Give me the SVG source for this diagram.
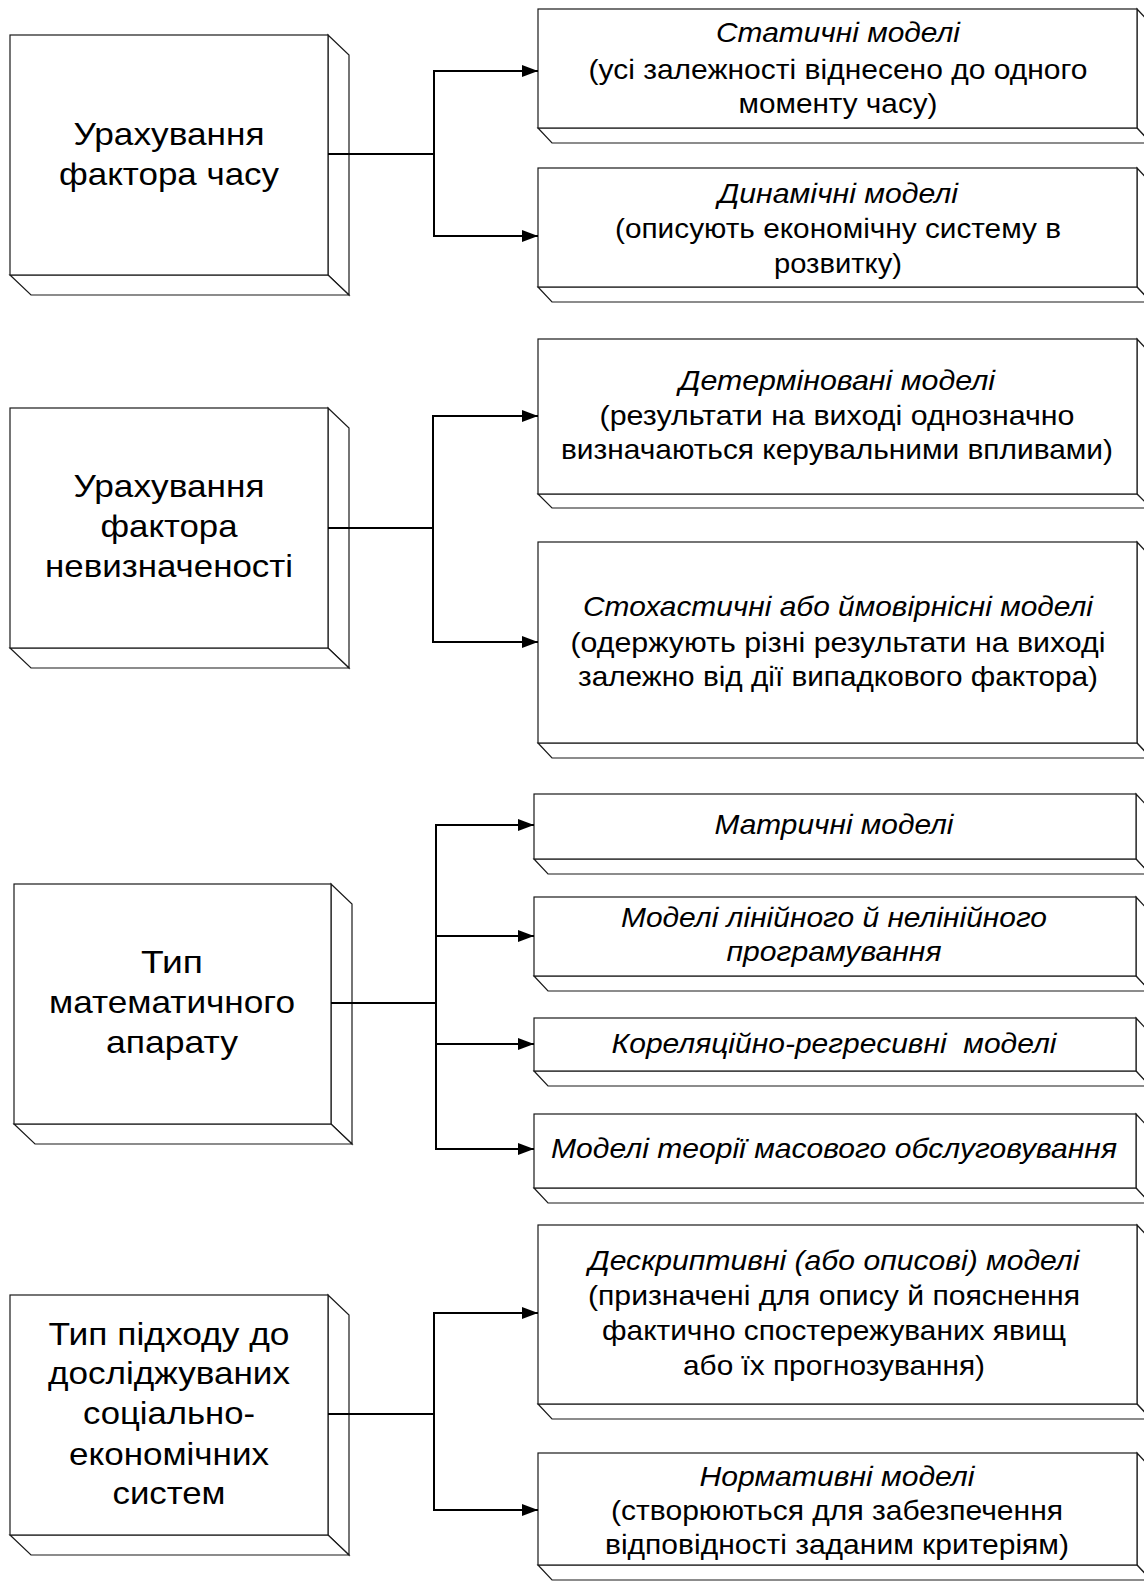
<svg xmlns="http://www.w3.org/2000/svg" width="1144" height="1582" viewBox="0 0 1144 1582">
  <style>
    .face { fill: #ffffff; stroke: #1a1a1a; stroke-width: 1.2; stroke-linejoin: miter; }
    .cat { font-family: "Liberation Sans", Arial, sans-serif; font-size: 32px; fill: #000; text-anchor: middle; }
    .t { font-family: "Liberation Sans", Arial, sans-serif; font-size: 27.5px; fill: #000; text-anchor: middle; }
    .ti { font-style: italic; }
    .wire { fill: none; stroke: #000; stroke-width: 2; }
  </style>
  <defs>
    <marker id="arrow" markerUnits="userSpaceOnUse" markerWidth="17" markerHeight="13" refX="16" refY="6.5" orient="auto">
      <path d="M0,0.5 L16,6.5 L0,12.5 Z" fill="#000"/>
    </marker>
  </defs>
  <rect width="1144" height="1582" fill="#ffffff"/>

  <!-- Category boxes (left column), extruded down-right -->
  <g id="cat-time">
    <polygon class="face" points="328,35 349,55 349,295 328,275"/>
    <polygon class="face" points="10,275 31,295 349,295 328,275"/>
    <rect class="face" x="10" y="35" width="318" height="240"/>
    <text class="cat" x="169" y="145" textLength="191" lengthAdjust="spacingAndGlyphs">Урахування</text>
    <text class="cat" x="169" y="185" textLength="220" lengthAdjust="spacingAndGlyphs">фактора часу</text>
  </g>
  <g id="cat-uncertainty">
    <polygon class="face" points="328,408 349,428 349,668 328,648"/>
    <polygon class="face" points="10,648 31,668 349,668 328,648"/>
    <rect class="face" x="10" y="408" width="318" height="240"/>
    <text class="cat" x="169" y="497" textLength="191" lengthAdjust="spacingAndGlyphs">Урахування</text>
    <text class="cat" x="169" y="537" textLength="137" lengthAdjust="spacingAndGlyphs">фактора</text>
    <text class="cat" x="169" y="577" textLength="248" lengthAdjust="spacingAndGlyphs">невизначеності</text>
  </g>
  <g id="cat-math">
    <polygon class="face" points="331,884 352,904 352,1144 331,1124"/>
    <polygon class="face" points="14,1124 35,1144 352,1144 331,1124"/>
    <rect class="face" x="14" y="884" width="317" height="240"/>
    <text class="cat" x="172" y="973" textLength="62" lengthAdjust="spacingAndGlyphs">Тип</text>
    <text class="cat" x="172" y="1013" textLength="246" lengthAdjust="spacingAndGlyphs">математичного</text>
    <text class="cat" x="172" y="1053" textLength="132" lengthAdjust="spacingAndGlyphs">апарату</text>
  </g>
  <g id="cat-approach">
    <polygon class="face" points="328,1295 349,1315 349,1555 328,1535"/>
    <polygon class="face" points="10,1535 31,1555 349,1555 328,1535"/>
    <rect class="face" x="10" y="1295" width="318" height="240"/>
    <text class="cat" x="169" y="1345" textLength="241" lengthAdjust="spacingAndGlyphs">Тип підходу до</text>
    <text class="cat" x="169" y="1384" textLength="242" lengthAdjust="spacingAndGlyphs">досліджуваних</text>
    <text class="cat" x="169" y="1424" textLength="172" lengthAdjust="spacingAndGlyphs">соціально-</text>
    <text class="cat" x="169" y="1465" textLength="200" lengthAdjust="spacingAndGlyphs">економічних</text>
    <text class="cat" x="169" y="1504" textLength="113" lengthAdjust="spacingAndGlyphs">систем</text>
  </g>

  <!-- Model boxes (right column) -->
  <g id="m-static">
    <polygon class="face" points="1137,9 1151,24 1151,143 1137,128"/>
    <polygon class="face" points="538,128 552,143 1151,143 1137,128"/>
    <rect class="face" x="538" y="9" width="599" height="119"/>
    <text class="t ti" x="838" y="42" textLength="244" lengthAdjust="spacingAndGlyphs">Статичні моделі</text>
    <text class="t" x="838" y="79" textLength="499" lengthAdjust="spacingAndGlyphs">(усі залежності віднесено до одного</text>
    <text class="t" x="838" y="113" textLength="199" lengthAdjust="spacingAndGlyphs">моменту часу)</text>
  </g>
  <g id="m-dynamic">
    <polygon class="face" points="1137,168 1151,183 1151,302 1137,287"/>
    <polygon class="face" points="538,287 552,302 1151,302 1137,287"/>
    <rect class="face" x="538" y="168" width="599" height="119"/>
    <text class="t ti" x="838" y="203" textLength="240" lengthAdjust="spacingAndGlyphs">Динамічні моделі</text>
    <text class="t" x="838" y="238" textLength="446" lengthAdjust="spacingAndGlyphs">(описують економічну систему в</text>
    <text class="t" x="838" y="273" textLength="128" lengthAdjust="spacingAndGlyphs">розвитку)</text>
  </g>
  <g id="m-determ">
    <polygon class="face" points="1137,339 1151,354 1151,508 1137,494"/>
    <polygon class="face" points="538,494 552,508 1151,508 1137,494"/>
    <rect class="face" x="538" y="339" width="599" height="155"/>
    <text class="t ti" x="837" y="390" textLength="316" lengthAdjust="spacingAndGlyphs">Детерміновані моделі</text>
    <text class="t" x="837" y="425" textLength="475" lengthAdjust="spacingAndGlyphs">(результати на виході однозначно</text>
    <text class="t" x="837" y="459" textLength="552" lengthAdjust="spacingAndGlyphs">визначаються керувальними впливами)</text>
  </g>
  <g id="m-stoch">
    <polygon class="face" points="1137,542 1151,557 1151,758 1137,743"/>
    <polygon class="face" points="538,743 552,758 1151,758 1137,743"/>
    <rect class="face" x="538" y="542" width="599" height="201"/>
    <text class="t ti" x="838" y="616" textLength="510" lengthAdjust="spacingAndGlyphs">Стохастичні або ймовірнісні моделі</text>
    <text class="t" x="838" y="652" textLength="535" lengthAdjust="spacingAndGlyphs">(одержують різні результати на виході</text>
    <text class="t" x="838" y="686" textLength="520" lengthAdjust="spacingAndGlyphs">залежно від дії випадкового фактора)</text>
  </g>
  <g id="m-matrix">
    <polygon class="face" points="1136,794 1150,809 1150,874 1136,859"/>
    <polygon class="face" points="534,859 548,874 1150,874 1136,859"/>
    <rect class="face" x="534" y="794" width="602" height="65"/>
    <text class="t ti" x="834" y="834" textLength="239" lengthAdjust="spacingAndGlyphs">Матричні моделі</text>
  </g>
  <g id="m-linear">
    <polygon class="face" points="1136,897 1150,912 1150,991 1136,976"/>
    <polygon class="face" points="534,976 548,991 1150,991 1136,976"/>
    <rect class="face" x="534" y="897" width="602" height="79"/>
    <text class="t ti" x="834" y="927" textLength="426" lengthAdjust="spacingAndGlyphs">Моделі лінійного й нелінійного</text>
    <text class="t ti" x="834" y="961" textLength="215" lengthAdjust="spacingAndGlyphs">програмування</text>
  </g>
  <g id="m-regress">
    <polygon class="face" points="1136,1018 1150,1033 1150,1086 1136,1071"/>
    <polygon class="face" points="534,1071 548,1086 1150,1086 1136,1071"/>
    <rect class="face" x="534" y="1018" width="602" height="53"/>
    <text class="t ti" x="834" y="1053" style="white-space:pre" textLength="445" lengthAdjust="spacingAndGlyphs">Кореляційно-регресивні  моделі</text>
  </g>
  <g id="m-queue">
    <polygon class="face" points="1136,1114 1150,1129 1150,1203 1136,1188"/>
    <polygon class="face" points="534,1188 548,1203 1150,1203 1136,1188"/>
    <rect class="face" x="534" y="1114" width="602" height="74"/>
    <text class="t ti" x="834" y="1158" textLength="566" lengthAdjust="spacingAndGlyphs">Моделі теорії масового обслуговування</text>
  </g>
  <g id="m-descr">
    <polygon class="face" points="1137,1225 1151,1240 1151,1419 1137,1404"/>
    <polygon class="face" points="538,1404 552,1419 1151,1419 1137,1404"/>
    <rect class="face" x="538" y="1225" width="599" height="179"/>
    <text class="t ti" x="834" y="1270" textLength="491" lengthAdjust="spacingAndGlyphs">Дескриптивні (або описові) моделі</text>
    <text class="t" x="834" y="1305" textLength="492" lengthAdjust="spacingAndGlyphs">(призначені для опису й пояснення</text>
    <text class="t" x="834" y="1340" textLength="464" lengthAdjust="spacingAndGlyphs">фактично спостережуваних явищ</text>
    <text class="t" x="834" y="1375" textLength="302" lengthAdjust="spacingAndGlyphs">або їх прогнозування)</text>
  </g>
  <g id="m-norm">
    <polygon class="face" points="1137,1453 1151,1468 1151,1580 1137,1565"/>
    <polygon class="face" points="538,1565 552,1580 1151,1580 1137,1565"/>
    <rect class="face" x="538" y="1453" width="599" height="112"/>
    <text class="t ti" x="837" y="1486" textLength="275" lengthAdjust="spacingAndGlyphs">Нормативні моделі</text>
    <text class="t" x="837" y="1520" textLength="452" lengthAdjust="spacingAndGlyphs">(створюються для забезпечення</text>
    <text class="t" x="837" y="1554" textLength="464" lengthAdjust="spacingAndGlyphs">відповідності заданим критеріям)</text>
  </g>

  <!-- Connectors: trunk from each category, then arrows to its models -->
  <g id="connectors">
    <path class="wire" d="M328,154 H434"/>
    <path class="wire" d="M434,71 V236"/>
    <path class="wire" d="M433,71 H538" marker-end="url(#arrow)"/>
    <path class="wire" d="M433,236 H538" marker-end="url(#arrow)"/>

    <path class="wire" d="M328,528 H433"/>
    <path class="wire" d="M433,416 V642"/>
    <path class="wire" d="M432,416 H538" marker-end="url(#arrow)"/>
    <path class="wire" d="M432,642 H538" marker-end="url(#arrow)"/>

    <path class="wire" d="M331,1003 H436"/>
    <path class="wire" d="M436,825 V1149"/>
    <path class="wire" d="M435,825 H534" marker-end="url(#arrow)"/>
    <path class="wire" d="M436,936 H534" marker-end="url(#arrow)"/>
    <path class="wire" d="M436,1044 H534" marker-end="url(#arrow)"/>
    <path class="wire" d="M435,1149 H534" marker-end="url(#arrow)"/>

    <path class="wire" d="M328,1414 H434"/>
    <path class="wire" d="M434,1313 V1510"/>
    <path class="wire" d="M433,1313 H538" marker-end="url(#arrow)"/>
    <path class="wire" d="M433,1510 H538" marker-end="url(#arrow)"/>
  </g>
</svg>
